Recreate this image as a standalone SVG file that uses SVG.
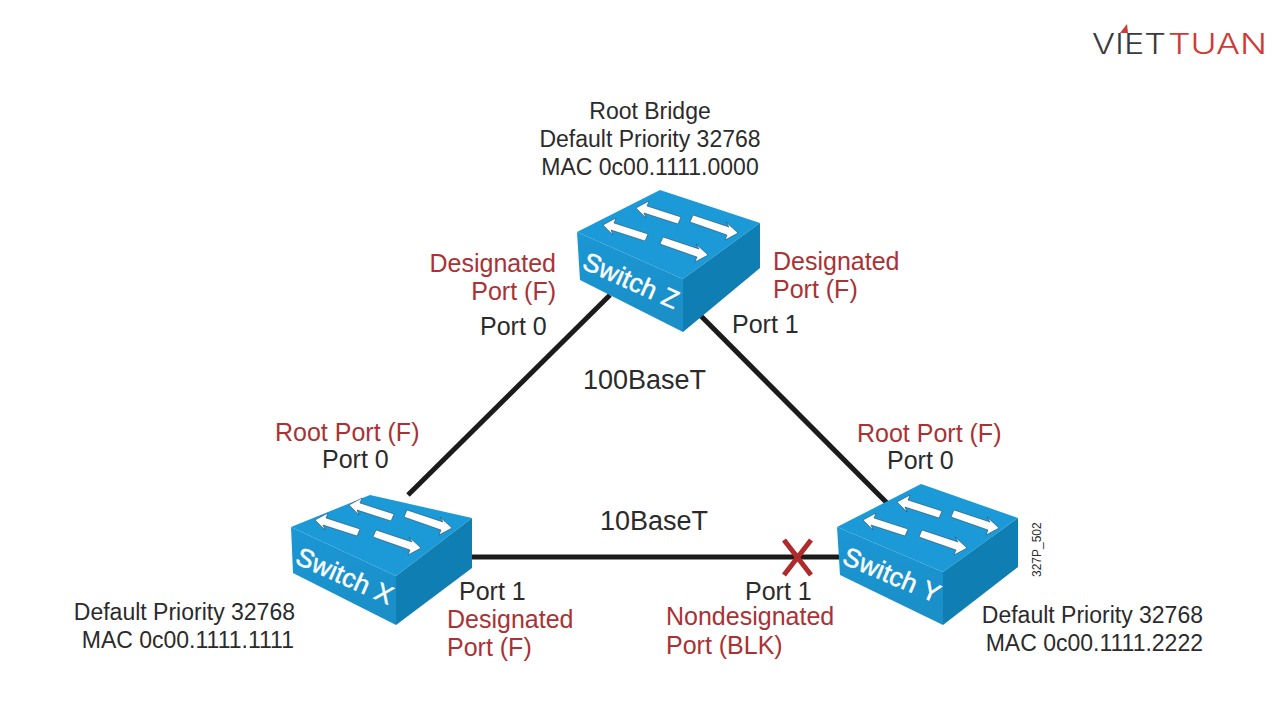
<svg xmlns="http://www.w3.org/2000/svg" width="1280" height="720" viewBox="0 0 1280 720">
<style>
text{font-family:"Liberation Sans",Arial,sans-serif;fill:#2b2b2b}
.i{font-size:23px}
.p{font-size:25px}
.r{font-size:25px;fill:#a93235}
.e{text-anchor:end}
.m{text-anchor:middle}
.top{fill:#1c9ad8}
.front{fill:url(#fg)}
.side{fill:#0f7fb3}
.ar{fill:#fff;stroke:#17364a;stroke-width:.5}
.sw{font-size:26px;fill:#fff;stroke:#fff;stroke-width:.5;letter-spacing:.3px}
.link{stroke:#1b1b1b;stroke-width:5;fill:none}
.x{stroke:#b02a2c;stroke-width:5;fill:none}
.logo{font-family:Inter,"Liberation Sans",sans-serif;font-size:28px;font-weight:300}
</style>
<defs>
<linearGradient id="fg" x1="0" y1="0" x2="0.2" y2="1"><stop offset="0" stop-color="#1b97d4"/><stop offset="1" stop-color="#1a8fc8"/></linearGradient>
<polygon id="al" points="0,0 13,-7 11,-2 45,9 42,16 8,5 10,10"/>
<polygon id="ar" points="0,0 -13,7 -11,2 -48,-11 -45,-18 -9,-6 -12,-11"/>
</defs>
<rect width="1280" height="720" fill="#fff"/>
<g id="connectors">
<line class="link" x1="610" y1="295" x2="408" y2="495"/>
<line class="link" x1="700" y1="315" x2="887" y2="503"/>
<line class="link" x1="470" y1="557" x2="840" y2="557"/>
<path class="x" d="M784 540L811 575M811 540L784 575"/>
</g>
<g id="switch-z">
<polygon class="top" points="660,190 760,223 683,279 577,232"/>
<polygon class="front" points="577,232 683,279 683,332 580,280"/>
<polygon class="side" points="760,223 760,268 683,332 683,279"/>
<use href="#al" class="ar" transform="translate(636,208)"/>
<use href="#al" class="ar" transform="translate(603,225)"/>
<use href="#ar" class="ar" transform="translate(738,233)"/>
<use href="#ar" class="ar" transform="translate(708,255)"/>
<text class="sw" transform="translate(581,268) rotate(24)">Switch Z</text>
</g>
<g id="switch-x">
<polygon class="top" points="370,495 472,518 396,576 291,527"/>
<polygon class="front" points="291,527 396,576 396,625 293,573"/>
<polygon class="side" points="472,518 472,568 396,625 396,576"/>
<use href="#al" class="ar" transform="translate(349,505)"/>
<use href="#al" class="ar" transform="translate(315,520)"/>
<use href="#ar" class="ar" transform="translate(452,528)"/>
<use href="#ar" class="ar" transform="translate(421,548)"/>
<text class="sw" transform="translate(294,563) rotate(24)">Switch X</text>
</g>
<g id="switch-y">
<polygon class="top" points="921,484 1018,518 943,572 837,527"/>
<polygon class="front" points="837,527 943,572 943,625 840,575"/>
<polygon class="side" points="1018,518 1018,567 943,625 943,572"/>
<use href="#al" class="ar" transform="translate(897,502)"/>
<use href="#al" class="ar" transform="translate(863,520)"/>
<use href="#ar" class="ar" transform="translate(999,528)"/>
<use href="#ar" class="ar" transform="translate(967,548)"/>
<text class="sw" transform="translate(841,563) rotate(23)">Switch Y</text>
</g>
<g id="labels">
<text class="i m" x="650" y="119">Root Bridge</text>
<text class="i m" x="650" y="147">Default Priority 32768</text>
<text class="i m" x="650" y="175">MAC 0c00.1111.0000</text>
<text class="r e" x="556" y="272">Designated</text>
<text class="r e" x="556" y="300">Port (F)</text>
<text class="p" x="480" y="335">Port 0</text>
<text class="r" x="773" y="270">Designated</text>
<text class="r" x="773" y="298">Port (F)</text>
<text class="p" x="732" y="333">Port 1</text>
<text class="p" x="583" y="389" style="font-size:27px">100BaseT</text>
<text class="r" x="275" y="441">Root Port (F)</text>
<text class="p" x="322" y="468">Port 0</text>
<text class="r" x="857" y="442">Root Port (F)</text>
<text class="p" x="887" y="469">Port 0</text>
<text class="p" x="600" y="530" style="font-size:27px">10BaseT</text>
<text class="p" x="459" y="600">Port 1</text>
<text class="r" x="447" y="628">Designated</text>
<text class="r" x="447" y="656">Port (F)</text>
<text class="i e" x="295" y="620">Default Priority 32768</text>
<text class="i e" x="294" y="648">MAC 0c00.1111.1111</text>
<text class="p" x="745" y="600">Port 1</text>
<text class="r" x="666" y="625">Nondesignated</text>
<text class="r" x="666" y="654">Port (BLK)</text>
<text class="i e" x="1203" y="623">Default Priority 32768</text>
<text class="i e" x="1203" y="651">MAC 0c00.1111.2222</text>
<text transform="translate(1041,577) rotate(-90)" style="font-size:12px">327P_502</text>
</g>
<g id="logo">
<text class="logo" x="1092" y="54" textLength="74" lengthAdjust="spacingAndGlyphs" style="fill:#3a3a3c">VIET</text>
<text class="logo" x="1168" y="54" textLength="99" lengthAdjust="spacingAndGlyphs" style="fill:#cf3a36">TUAN</text>
<polygon points="1120,33 1127,24 1128,33" fill="#cf3a36"/>
</g>
</svg>
